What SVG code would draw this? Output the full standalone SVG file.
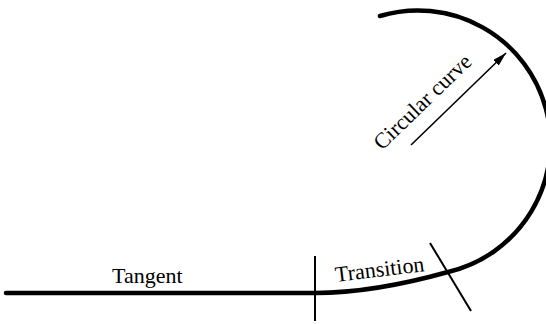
<svg xmlns="http://www.w3.org/2000/svg" width="546" height="324" viewBox="0 0 546 324">
<style>
.curve{fill:none;stroke:#000;stroke-width:4.5;stroke-linecap:round}
.tick{fill:none;stroke:#000;stroke-width:2}
.lbl{font-family:"Liberation Serif","Times New Roman",serif;font-size:22px;fill:#000}
</style>
<defs>
<marker id="ah" viewBox="0 0 14 8" refX="14" refY="4" markerWidth="14" markerHeight="8" markerUnits="userSpaceOnUse" orient="auto">
<path d="M0,0 L14,4 L0,8 z" fill="#000"/>
</marker>
</defs>
<rect width="546" height="324" fill="#fff"/>
<g id="connectors">
<path class="curve" d="M6,293 L315,293 C360,293 405,284 448,272 A132.5,132.5 0 1 0 380,16"/>
<line class="tick" x1="315" y1="256" x2="315" y2="321"/>
<line class="tick" x1="430" y1="243" x2="471" y2="311"/>
<line x1="411" y1="145" x2="506" y2="53" stroke="#000" stroke-width="1.6" marker-end="url(#ah)"/>
</g>
<g id="tangent"><text class="lbl" x="112" y="283">Tangent</text></g>
<g id="transition"><text class="lbl" transform="translate(336,282) rotate(-7)">Transition</text></g>
<g id="circular"><text class="lbl" transform="translate(382,151) rotate(-44)">Circular curve</text></g>
</svg>
